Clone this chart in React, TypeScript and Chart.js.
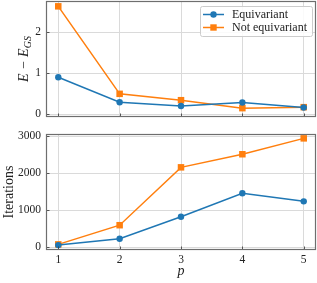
import { useEffect, useRef } from "react";
import { Chart, registerables } from "chart.js";
Chart.register(...registerables);

const pValues = [1, 2, 3, 4, 5];
const energyEquivariant = [0.9, 0.29, 0.2, 0.285, 0.16];
const energyNotEquivariant = [2.63, 0.495, 0.34, 0.146, 0.17];
const iterEquivariant = [63, 235, 827, 1463, 1245];
const iterNotEquivariant = [82, 600, 2164, 2518, 2947];
const pTicks = [1, 2, 3, 4, 5];
const energyTicks = [0, 1, 2];
const iterTicks = [0, 1000, 2000, 3000];
const seriesLabels = ["Equivariant", "Not equivariant"];
const seriesColors = ["#1f77b4", "#ff7f0e"];
const seriesMarkers = ["circle", "rect"];

const SERIF = "'Liberation Serif', 'DejaVu Serif', serif";
const FRAME = "#6e6e6e";
const GRID = "#dadada";
const TICKC = "#444";

function toPoints(ys: number[]) {
  return pValues.map((x, i) => ({ x, y: ys[i] }));
}

function makeDatasets(a: number[], b: number[]) {
  return [a, b].map((ys, i) => ({
    label: seriesLabels[i],
    data: toPoints(ys),
    borderColor: seriesColors[i],
    backgroundColor: seriesColors[i],
    borderWidth: 1.5,
    pointStyle: seriesMarkers[i] as any,
    pointRadius: i === 0 ? 3.2 : 4.6,
    pointBorderWidth: 0,
    tension: 0,
  }));
}

const framePlugin = {
  id: "frameTicks",
  afterDraw(chart: any) {
    const { ctx, chartArea: a, scales } = chart;
    ctx.save();
    ctx.strokeStyle = TICKC;
    ctx.lineWidth = 0.9;
    ctx.beginPath();
    scales.x.ticks.forEach((t: any) => {
      const x = Math.round(scales.x.getPixelForValue(t.value)) + 0.5;
      ctx.moveTo(x, a.bottom);
      ctx.lineTo(x, a.bottom - 3.5);
    });
    scales.y.ticks.forEach((t: any) => {
      const y = Math.round(scales.y.getPixelForValue(t.value)) + 0.5;
      ctx.moveTo(a.left, y);
      ctx.lineTo(a.left + 3.5, y);
    });
    ctx.stroke();
    ctx.strokeStyle = FRAME;
    ctx.lineWidth = 1.2;
    ctx.strokeRect(a.left + 0.5, a.top + 0.5, a.right - a.left - 1, a.bottom - a.top - 1);
    ctx.restore();
  },
};

function legendPlugin() {
  return {
    id: "customLegend",
    afterDraw(chart: any) {
      const { ctx } = chart;
      ctx.save();
      const bx = 200, by = 6, bw = 112, bh = 30;
      ctx.fillStyle = "rgba(255,255,255,0.85)";
      ctx.strokeStyle = "#cccccc";
      ctx.lineWidth = 1;
      ctx.beginPath();
      (ctx as any).roundRect(bx + 0.5, by + 0.5, bw, bh, 2);
      ctx.fill();
      ctx.stroke();
      seriesLabels.forEach((lab, i) => {
        const y = by + 8.5 + i * 13;
        ctx.strokeStyle = seriesColors[i];
        ctx.fillStyle = seriesColors[i];
        ctx.lineWidth = 1.5;
        ctx.beginPath();
        ctx.moveTo(203, y);
        ctx.lineTo(224, y);
        ctx.stroke();
        ctx.beginPath();
        if (i === 0) {
          ctx.arc(213.5, y, 3.2, 0, Math.PI * 2);
          ctx.fill();
        } else {
          ctx.fillRect(213.5 - 3.2, y - 3.2, 6.4, 6.4);
        }
        ctx.fillStyle = "#222";
        ctx.font = `12px ${SERIF}`;
        ctx.textBaseline = "middle";
        ctx.textAlign = "left";
        ctx.fillText(lab, 232, y + 0.5);
      });
      ctx.restore();
    },
  };
}

function yLabelPlugin(kind: "energy" | "iter") {
  return {
    id: "yLabel_" + kind,
    afterDraw(chart: any) {
      const { ctx, chartArea: a } = chart;
      ctx.save();
      ctx.fillStyle = "#222";
      const cy = (a.top + a.bottom) / 2;
      if (kind === "energy") {
        ctx.translate(24, cy);
        ctx.rotate(-Math.PI / 2);
        ctx.textBaseline = "alphabetic";
        const main = "E \u2212 E";
        ctx.font = `italic 14px ${SERIF}`;
        const w1 = ctx.measureText(main).width;
        ctx.font = `italic 10px ${SERIF}`;
        const w2 = ctx.measureText("GS").width;
        const total = w1 + w2;
        ctx.font = `italic 14px ${SERIF}`;
        ctx.textAlign = "left";
        ctx.fillText(main, -total / 2, 4);
        ctx.font = `italic 10px ${SERIF}`;
        ctx.fillText("GS", -total / 2 + w1, 7);
      } else {
        ctx.translate(13, cy);
        ctx.rotate(-Math.PI / 2);
        ctx.textAlign = "center";
        ctx.textBaseline = "alphabetic";
        ctx.font = `14px ${SERIF}`;
        ctx.fillText("Iterations", 0, 0);
      }
      ctx.restore();
    },
  };
}

const xLabelPlugin = {
  id: "xLabel",
  afterDraw(chart: any) {
    const { ctx, chartArea: a } = chart;
    ctx.save();
    ctx.fillStyle = "#222";
    ctx.font = `italic 14px ${SERIF}`;
    ctx.textAlign = "center";
    ctx.textBaseline = "alphabetic";
    ctx.fillText("p", (a.left + a.right) / 2, 150);
    ctx.restore();
  },
};

function zeroPad(s: any) {
  s.paddingTop = 0;
  s.paddingBottom = 0;
  s.paddingLeft = 0;
  s.paddingRight = 0;
}

function baseOptions(yMin: number, yMax: number, yTicks: number[], showX: boolean, xHeight: number, padTop: number, padBottom: number) {
  return {
    responsive: false,
    animation: false as const,
    devicePixelRatio: 1,
    layout: { autoPadding: false, padding: { left: 0, right: 1, top: padTop, bottom: padBottom } },
    plugins: { legend: { display: false }, tooltip: { enabled: false } },
    scales: {
      x: {
        type: "linear" as const,
        min: 0.8,
        max: 5.2,
        afterBuildTicks: (s: any) => {
          s.ticks = pTicks.map((v) => ({ value: v }));
        },
        afterFit: (s: any) => {
          s.height = xHeight;
          zeroPad(s);
        },
        grid: { color: GRID, lineWidth: 1, drawTicks: false },
        border: { display: false },
        ticks: {
          display: showX,
          padding: 3,
          color: "#222",
          font: { family: SERIF, size: 11.5 },
          callback: (v: any) => String(v),
        },
      },
      y: {
        type: "linear" as const,
        min: yMin,
        max: yMax,
        afterBuildTicks: (s: any) => {
          s.ticks = yTicks.map((v) => ({ value: v }));
        },
        afterFit: (s: any) => {
          s.width = 46;
          zeroPad(s);
        },
        grid: { color: GRID, lineWidth: 1, drawTicks: false },
        border: { display: false },
        ticks: {
          padding: 5,
          color: "#222",
          font: { family: SERIF, size: 11.5 },
          callback: (v: any) => String(v),
        },
      },
    },
  };
}

export default function App() {
  const topRef = useRef<HTMLCanvasElement>(null);
  const botRef = useRef<HTMLCanvasElement>(null);

  useEffect(() => {
    document.body.style.margin = "0";
    const top = new Chart(topRef.current!, {
      type: "line",
      data: { datasets: makeDatasets(energyEquivariant, energyNotEquivariant) as any },
      options: baseOptions(-0.07, 2.76, energyTicks, false, 0, 1, 8) as any,
      plugins: [framePlugin, legendPlugin(), yLabelPlugin("energy")],
    });
    const bot = new Chart(botRef.current!, {
      type: "line",
      data: { datasets: makeDatasets(iterEquivariant, iterNotEquivariant) as any },
      options: baseOptions(-70, 3065, iterTicks, true, 33, 9, 0) as any,
      plugins: [framePlugin, yLabelPlugin("iter"), xLabelPlugin],
    });
    return () => {
      top.destroy();
      bot.destroy();
    };
  }, []);

  return (
    <div style={{ position: "relative", width: 317, height: 283, background: "#fff" }}>
      <canvas ref={topRef} width={317} height={125} style={{ position: "absolute", left: 0, top: 0 }} />
      <canvas ref={botRef} width={317} height={158} style={{ position: "absolute", left: 0, top: 125 }} />
    </div>
  );
}
